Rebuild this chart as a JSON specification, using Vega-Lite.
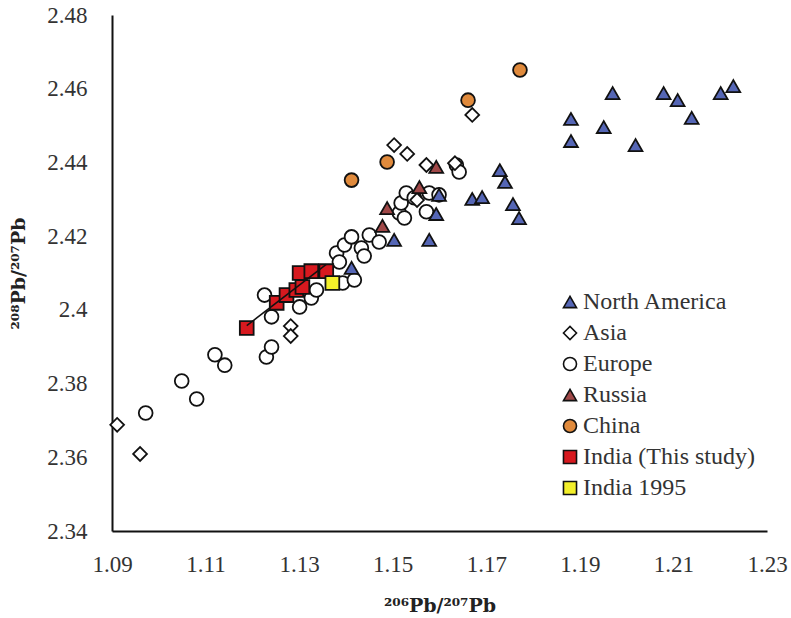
{
  "$schema": "https://vega.github.io/schema/vega-lite/v6.json",
  "width": 655,
  "height": 516,
  "autosize": {"type": "none"},
  "padding": {"left": 112, "top": 15, "right": 24, "bottom": 87},
  "background": "white",
  "config": {
    "view": {"stroke": null},
    "legend": {"labelFont": "Liberation Serif", "labelFontSize": 24, "labelColor": "#333", "labelLimit": 400},
    "axis": {
      "grid": false,
      "ticks": false,
      "domainColor": "#111",
      "domainWidth": 2,
      "labelFont": "Liberation Serif",
      "labelFontSize": 23,
      "labelColor": "#333",
      "labelFlush": false,
      "labelOverlap": false,
      "titleFont": "DejaVu Serif",
      "titleFontWeight": "bold",
      "titleFontSize": 19,
      "titleColor": "#222"
    }
  },
  "datasets": {
    "points": [
      {"group": "Europe", "x": 1.0972, "y": 2.3720},
      {"group": "Europe", "x": 1.1049, "y": 2.3807},
      {"group": "Europe", "x": 1.1081, "y": 2.3758},
      {"group": "Europe", "x": 1.1120, "y": 2.3878},
      {"group": "Europe", "x": 1.1141, "y": 2.3850},
      {"group": "Europe", "x": 1.1230, "y": 2.3872},
      {"group": "Europe", "x": 1.1241, "y": 2.3899},
      {"group": "Europe", "x": 1.1226, "y": 2.4040},
      {"group": "Europe", "x": 1.1241, "y": 2.3981},
      {"group": "Europe", "x": 1.1301, "y": 2.4008},
      {"group": "Europe", "x": 1.1326, "y": 2.4032},
      {"group": "Europe", "x": 1.1337, "y": 2.4054},
      {"group": "Europe", "x": 1.1393, "y": 2.4073},
      {"group": "Europe", "x": 1.1418, "y": 2.4081},
      {"group": "Europe", "x": 1.1380, "y": 2.4154},
      {"group": "Europe", "x": 1.1386, "y": 2.4130},
      {"group": "Europe", "x": 1.1397, "y": 2.4176},
      {"group": "Europe", "x": 1.1412, "y": 2.4198},
      {"group": "Europe", "x": 1.1433, "y": 2.4168},
      {"group": "Europe", "x": 1.1439, "y": 2.4146},
      {"group": "Europe", "x": 1.1450, "y": 2.4203},
      {"group": "Europe", "x": 1.1471, "y": 2.4184},
      {"group": "Europe", "x": 1.1514, "y": 2.4263},
      {"group": "Europe", "x": 1.1525, "y": 2.4249},
      {"group": "Europe", "x": 1.1518, "y": 2.4290},
      {"group": "Europe", "x": 1.1529, "y": 2.4317},
      {"group": "Europe", "x": 1.1546, "y": 2.4304},
      {"group": "Europe", "x": 1.1572, "y": 2.4266},
      {"group": "Europe", "x": 1.1578, "y": 2.4317},
      {"group": "Europe", "x": 1.1599, "y": 2.4312},
      {"group": "Europe", "x": 1.1636, "y": 2.4393},
      {"group": "Europe", "x": 1.1642, "y": 2.4374},
      {"group": "Asia", "x": 1.1670, "y": 2.4529},
      {"group": "Asia", "x": 1.1503, "y": 2.4447},
      {"group": "Asia", "x": 1.1531, "y": 2.4423},
      {"group": "Asia", "x": 1.1572, "y": 2.4393},
      {"group": "Asia", "x": 1.1633, "y": 2.4398},
      {"group": "Asia", "x": 1.1552, "y": 2.4298},
      {"group": "Asia", "x": 1.1282, "y": 2.3956},
      {"group": "Asia", "x": 1.1282, "y": 2.3929},
      {"group": "Asia", "x": 1.0911, "y": 2.3688},
      {"group": "Asia", "x": 1.0960, "y": 2.3609},
      {"group": "China", "x": 1.1772, "y": 2.4651},
      {"group": "China", "x": 1.1661, "y": 2.4569},
      {"group": "China", "x": 1.1488, "y": 2.4401},
      {"group": "China", "x": 1.1412, "y": 2.4352},
      {"group": "North America", "x": 1.1970, "y": 2.4588},
      {"group": "North America", "x": 1.2079, "y": 2.4588},
      {"group": "North America", "x": 1.2109, "y": 2.4569},
      {"group": "North America", "x": 1.2201, "y": 2.4588},
      {"group": "North America", "x": 1.2228, "y": 2.4607},
      {"group": "North America", "x": 1.2139, "y": 2.4521},
      {"group": "North America", "x": 1.1881, "y": 2.4518},
      {"group": "North America", "x": 1.1881, "y": 2.4458},
      {"group": "North America", "x": 1.1951, "y": 2.4496},
      {"group": "North America", "x": 1.2019, "y": 2.4447},
      {"group": "North America", "x": 1.1729, "y": 2.4379},
      {"group": "North America", "x": 1.1740, "y": 2.4347},
      {"group": "North America", "x": 1.1670, "y": 2.4301},
      {"group": "North America", "x": 1.1691, "y": 2.4306},
      {"group": "North America", "x": 1.1757, "y": 2.4287},
      {"group": "North America", "x": 1.1770, "y": 2.4249},
      {"group": "North America", "x": 1.1599, "y": 2.4312},
      {"group": "North America", "x": 1.1593, "y": 2.4260},
      {"group": "North America", "x": 1.1578, "y": 2.4190},
      {"group": "North America", "x": 1.1503, "y": 2.4190},
      {"group": "North America", "x": 1.1412, "y": 2.4114},
      {"group": "Russia", "x": 1.1593, "y": 2.4388},
      {"group": "Russia", "x": 1.1557, "y": 2.4333},
      {"group": "Russia", "x": 1.1488, "y": 2.4276},
      {"group": "Russia", "x": 1.1478, "y": 2.4228},
      {"group": "India (This study)", "x": 1.1188, "y": 2.3951},
      {"group": "India (This study)", "x": 1.1252, "y": 2.4019},
      {"group": "India (This study)", "x": 1.1273, "y": 2.4040},
      {"group": "India (This study)", "x": 1.1294, "y": 2.4054},
      {"group": "India (This study)", "x": 1.1307, "y": 2.4062},
      {"group": "India (This study)", "x": 1.1301, "y": 2.4100},
      {"group": "India (This study)", "x": 1.1326, "y": 2.4105},
      {"group": "India (This study)", "x": 1.1358, "y": 2.4105},
      {"group": "India 1995", "x": 1.1371, "y": 2.4073}
    ],
    "xticks": [
      {"x": 1.09}, {"x": 1.094}, {"x": 1.098}, {"x": 1.102}, {"x": 1.106}, {"x": 1.11}, {"x": 1.114}, {"x": 1.118}, {"x": 1.122}, {"x": 1.126},
      {"x": 1.13}, {"x": 1.134}, {"x": 1.138}, {"x": 1.142}, {"x": 1.146}, {"x": 1.15}, {"x": 1.154}, {"x": 1.158}, {"x": 1.162}, {"x": 1.166},
      {"x": 1.17}, {"x": 1.174}, {"x": 1.178}, {"x": 1.182}, {"x": 1.186}, {"x": 1.19}, {"x": 1.194}, {"x": 1.198}, {"x": 1.202}, {"x": 1.206},
      {"x": 1.21}, {"x": 1.214}, {"x": 1.218}, {"x": 1.222}, {"x": 1.226}, {"x": 1.23}
    ],
    "yticks": [
      {"y": 2.34}, {"y": 2.344}, {"y": 2.348}, {"y": 2.352}, {"y": 2.356}, {"y": 2.36}, {"y": 2.364}, {"y": 2.368}, {"y": 2.372}, {"y": 2.376},
      {"y": 2.38}, {"y": 2.384}, {"y": 2.388}, {"y": 2.392}, {"y": 2.396}, {"y": 2.4}, {"y": 2.404}, {"y": 2.408}, {"y": 2.412}, {"y": 2.416},
      {"y": 2.42}, {"y": 2.424}, {"y": 2.428}, {"y": 2.432}, {"y": 2.436}, {"y": 2.44}, {"y": 2.444}, {"y": 2.448}, {"y": 2.452}, {"y": 2.456},
      {"y": 2.46}, {"y": 2.464}, {"y": 2.468}, {"y": 2.472}, {"y": 2.476}, {"y": 2.48}
    ]
  },
  "encoding": {
    "x": {
      "field": "x", "type": "quantitative",
      "scale": {"domain": [1.09, 1.23], "nice": false, "zero": false},
      "axis": {
        "title": "²⁰⁶Pb/²⁰⁷Pb",
        "titlePadding": 20,
        "labelPadding": 22,
        "values": [1.09, 1.11, 1.13, 1.15, 1.17, 1.19, 1.21, 1.23],
        "format": ".3~g"
      }
    },
    "y": {
      "field": "y", "type": "quantitative",
      "scale": {"domain": [2.34, 2.48], "nice": false, "zero": false},
      "axis": {
        "title": "²⁰⁸Pb/²⁰⁷Pb",
        "titlePadding": 18,
        "labelPadding": 25,
        "values": [2.34, 2.36, 2.38, 2.4, 2.42, 2.44, 2.46, 2.48],
        "format": ".3~g"
      }
    }
  },
  "layer": [
    {
      "data": {"name": "points"},
      "mark": {"type": "point", "filled": true, "opacity": 1, "size": 190, "stroke": "#111", "strokeWidth": 1.8},
      "encoding": {
        "fill": {
          "field": "group", "type": "nominal",
          "scale": {
            "domain": ["North America", "Asia", "Europe", "Russia", "China", "India (This study)", "India 1995"],
            "range": ["#5566b5", "#ffffff", "#ffffff", "#a04848", "#e08a3c", "#d7191f", "#f3ef2a"]
          },
          "legend": {
            "title": null,
            "orient": "none",
            "legendX": 446,
            "legendY": 275,
            "labelOffset": 1,
            "rowPadding": 7,
            "symbolSize": 170,
            "symbolStrokeColor": "#111",
            "symbolStrokeWidth": 1.6,
            "padding": 0
          }
        },
        "shape": {
          "field": "group", "type": "nominal",
          "scale": {
            "domain": ["North America", "Asia", "Europe", "Russia", "China", "India (This study)", "India 1995"],
            "range": ["triangle-up", "diamond", "circle", "triangle-up", "circle", "square", "square"]
          }
        }
      }
    },
    {
      "data": {"name": "points"},
      "transform": [
        {"filter": "datum.group === 'India (This study)'"},
        {"regression": "y", "on": "x"}
      ],
      "mark": {"type": "line", "color": "#111", "strokeWidth": 1.5}
    },
    {
      "data": {"name": "xticks"},
      "mark": {"type": "rule", "color": "#111", "strokeWidth": 2, "opacity": 1},
      "encoding": {
        "y": {"datum": 2.34, "type": "quantitative"},
        "y2": {"datum": 2.3385}
      }
    },
    {
      "data": {"name": "yticks"},
      "mark": {"type": "rule", "color": "#111", "strokeWidth": 2, "opacity": 1},
      "encoding": {
        "x": {"datum": 1.09, "type": "quantitative"},
        "x2": {"datum": 1.0888}
      }
    }
  ]
}
